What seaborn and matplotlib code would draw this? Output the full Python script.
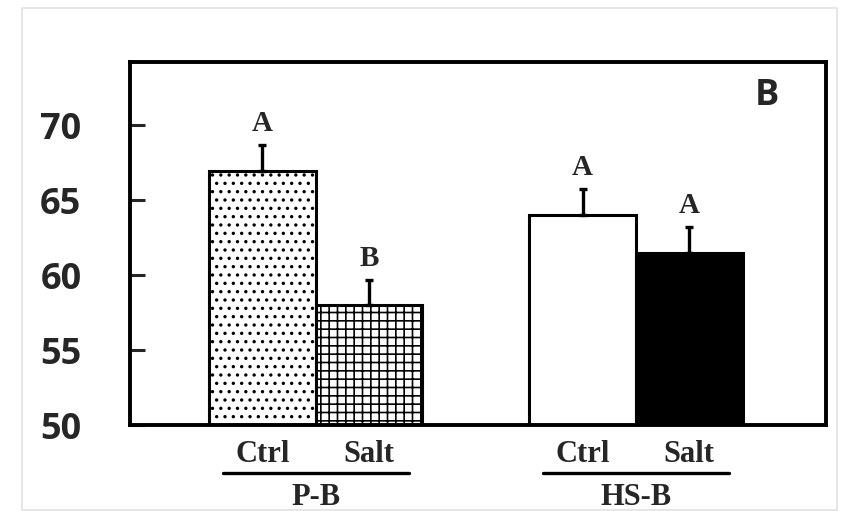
import numpy as np
import pandas as pd
import matplotlib
matplotlib.use('Agg')
import matplotlib.pyplot as plt
import seaborn as sns
from matplotlib.patches import Rectangle
from matplotlib.transforms import blended_transform_factory


groups = ['P-B', 'P-B', 'HS-B', 'HS-B']
treatments = ['Ctrl', 'Salt', 'Ctrl', 'Salt']
values = [66.9, 58.0, 64.0, 61.5]
errors = [1.8, 1.7, 1.75, 1.7]
letters = ['A', 'B', 'A', 'A']
group_names = ['P-B', 'HS-B']

fills = ['white', 'white', 'white', 'black']
hatches = ['..', '++', '', '']

sns.set_theme(style='ticks')
plt.rcParams['hatch.linewidth'] = 1.2
plt.rcParams['font.family'] = ['Liberation Serif', 'DejaVu Serif']

df = pd.DataFrame({
    'group': groups,
    'treatment': treatments,
    'value': values,
    'err': errors,
    'letter': letters,
})
# two bars per group, one empty slot between groups
df['pos'] = [group_names.index(g) * 3 + (0 if t == 'Ctrl' else 1)
             for g, t in zip(df['group'], df['treatment'])]

fig = plt.figure(figsize=(8.41, 5.11), dpi=100)
ax = fig.add_axes([130 / 841, 86 / 511, 696 / 841, 363 / 511])

sns.barplot(
    data=df,
    x='pos',
    y='value',
    native_scale=True,
    width=1.0,
    errorbar=None,
    color='white',
    edgecolor='black',
    linewidth=2.2,
    ax=ax
)
for patch, fc, h in zip(ax.patches, fills, hatches):
    patch.set_facecolor(fc)
    patch.set_hatch(h)
    patch.set_edgecolor('black')

ax.errorbar(
    df['pos'], df['value'],
    yerr=[np.zeros(len(df)), df['err']],
    fmt='none', ecolor='black', elinewidth=2.4,
    capsize=3, capthick=2.4, zorder=5
)

for _, row in df.iterrows():
    ax.annotate(
        row['letter'],
        xy=(row['pos'], row['value'] + row['err']),
        xytext=(0, 10), textcoords='offset points',
        ha='center', va='baseline',
        fontsize=21, fontweight='bold', family='Liberation Serif'
    )

ax.set_xlim(-1.24, 5.28)
ax.set_ylim(50, 74.2)
ax.set_yticks([50, 55, 60, 65, 70])
ax.set_yticklabels(['50', '55', '60', '65', '70'],
                   fontsize=26, fontweight='bold', family='Open Sans')
ax.tick_params(axis='y', direction='in', length=11, width=2.2, pad=35)
ax.set_xticks(df['pos'])
ax.set_xticklabels(df['treatment'], fontsize=22, fontweight='bold',
                   family='Liberation Serif')
ax.tick_params(axis='x', length=0, pad=11)
ax.set_xlabel('')
ax.set_ylabel('')
for side in ['top', 'right', 'bottom', 'left']:
    ax.spines[side].set_visible(True)
    ax.spines[side].set_linewidth(2.8)
    ax.spines[side].set_color('black')

trans = blended_transform_factory(ax.transData, ax.transAxes)
for gi, name in enumerate(group_names):
    center = gi * 3 + 0.5
    ax.plot([center - 0.87, center + 0.87], [-0.132, -0.132],
            color='black', lw=2.4, transform=trans, clip_on=False)
    ax.text(center, -0.16, name, transform=trans, ha='center', va='top',
            fontsize=22, fontweight='bold', family='Liberation Serif')

ax.text(0.915, 0.905, 'B', transform=ax.transAxes, ha='center',
        va='center', fontsize=26, fontweight='bold', family='Open Sans')

fig.patches.append(Rectangle((22 / 841, 1 / 511), 815 / 841, 502 / 511,
                             transform=fig.transFigure, fill=False,
                             edgecolor='#e2e2e2', lw=1.2))

fig.savefig('out.png', dpi=100)
